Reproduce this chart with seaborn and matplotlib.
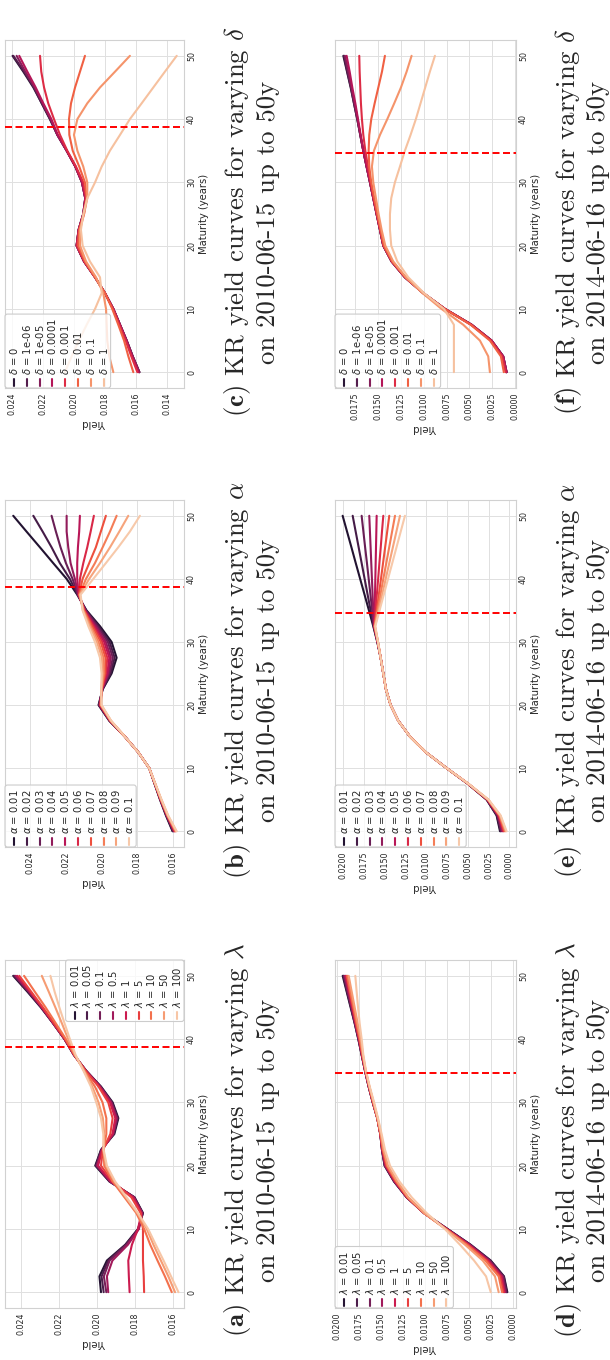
import matplotlib
matplotlib.use("Agg")
import matplotlib.pyplot as plt
from matplotlib.patches import FancyBboxPatch
from matplotlib.lines import Line2D
from matplotlib.transforms import IdentityTransform
import pandas as pd
import seaborn as sns

# ---------------------------------------------------------------- data
MATURITY = [0.0, 2.5, 5.0, 7.5, 10.0, 12.5, 15.0, 17.5, 20.0, 22.5, 25.0,
            27.5, 30.0, 32.5, 35.0, 37.5, 40.0, 42.5, 45.0, 47.5, 50.0]
MATURITY_TICKS = [0, 10, 20, 30, 40, 50]

LAMBDA_LABELS = ["0.01", "0.05", "0.1", "0.5", "1", "5", "10", "50", "100"]
ALPHA_LABELS = ["0.01", "0.02", "0.03", "0.04", "0.05",
                "0.06", "0.07", "0.08", "0.09", "0.1"]
DELTA_LABELS = ["0", "1e-06", "1e-05", "0.0001", "0.001", "0.01", "0.1", "1"]

# last liquid maturity (years) on each date
CUTOFF_2010 = 38.7
CUTOFF_2014 = 34.6

# yields in basis points, one row per parameter value, columns follow MATURITY
LAMBDA_2010_BP = [
    [197.9, 198.7, 194.8, 185.2, 178.5, 175.9, 180.3, 193.5, 200.9, 197.9, 190.9, 188.8, 191.8, 197.9, 205.7, 212.1, 217.0, 223.0, 229.4, 236.5, 243.9],
    [196.5, 197.6, 194.1, 184.9, 178.3, 176.0, 180.5, 193.4, 200.6, 197.8, 191.2, 189.1, 192.1, 198.1, 205.7, 212.1, 217.0, 223.0, 229.2, 236.1, 243.5],
    [195.1, 196.4, 193.4, 184.5, 178.2, 176.2, 180.6, 193.2, 200.2, 197.6, 191.4, 189.5, 192.4, 198.3, 205.7, 212.1, 217.0, 223.0, 229.0, 235.8, 243.0],
    [194.1, 194.8, 191.9, 183.8, 178.0, 176.4, 180.8, 193.0, 199.9, 197.4, 191.6, 189.8, 192.6, 198.5, 205.9, 212.1, 217.0, 222.9, 228.9, 235.4, 242.5],
    [182.9, 183.3, 183.6, 181.7, 178.5, 176.7, 181.2, 192.6, 199.4, 197.2, 191.9, 190.4, 193.2, 198.7, 205.9, 211.9, 216.8, 222.7, 228.7, 235.0, 241.8],
    [175.3, 175.5, 175.9, 175.9, 175.9, 177.1, 182.0, 191.9, 197.9, 196.9, 193.0, 191.8, 194.1, 199.2, 206.1, 211.9, 216.7, 222.5, 228.3, 234.5, 240.7],
    [160.8, 164.4, 168.3, 172.1, 175.3, 179.4, 185.6, 191.8, 196.2, 196.5, 195.1, 195.1, 197.1, 201.1, 206.5, 211.7, 216.3, 221.6, 226.9, 232.6, 238.2],
    [159.1, 162.6, 166.5, 170.4, 173.9, 178.9, 184.9, 190.9, 195.3, 196.7, 196.2, 196.9, 199.2, 202.5, 206.8, 211.6, 215.1, 218.4, 221.8, 225.3, 228.9],
    [157.3, 161.2, 165.1, 169.2, 173.2, 178.5, 184.5, 190.5, 194.8, 196.5, 196.7, 197.9, 200.4, 203.2, 207.1, 211.2, 214.2, 217.0, 219.7, 222.2, 224.4],
]

ALPHA_2010_BP = [
    [160.4, 164.1, 167.4, 170.4, 173.4, 179.5, 187.0, 195.7, 201.7, 199.4, 194.4, 191.6, 194.4, 200.9, 208.4, 213.6, 219.5, 227.0, 234.4, 241.9, 249.3],
    [160.2, 163.9, 167.2, 170.4, 173.4, 179.5, 187.0, 195.5, 201.5, 199.4, 195.0, 192.7, 195.5, 201.7, 208.6, 213.4, 217.7, 223.3, 227.9, 232.9, 238.1],
    [159.8, 163.7, 167.2, 170.2, 173.4, 179.5, 187.0, 195.5, 201.3, 199.6, 195.7, 193.7, 196.5, 202.4, 208.9, 213.2, 216.2, 219.9, 222.9, 225.5, 227.9],
    [159.6, 163.7, 167.1, 170.2, 173.4, 179.5, 187.0, 195.3, 201.1, 199.6, 196.3, 194.8, 197.6, 203.2, 209.1, 213.0, 214.9, 217.3, 218.6, 219.5, 219.5],
    [159.4, 163.5, 167.1, 170.2, 173.4, 179.5, 187.0, 195.2, 200.9, 199.8, 196.8, 195.7, 198.5, 203.9, 209.3, 212.8, 213.6, 213.6, 213.2, 212.5, 212.1],
    [159.1, 163.3, 166.9, 170.2, 173.4, 179.5, 187.0, 195.2, 200.7, 199.8, 197.6, 196.8, 199.6, 204.5, 209.7, 212.6, 212.1, 210.2, 208.0, 206.1, 204.3],
    [158.9, 163.2, 166.9, 170.2, 173.4, 179.5, 187.0, 195.0, 200.5, 200.0, 198.1, 197.8, 200.5, 205.2, 209.8, 212.5, 210.6, 206.9, 203.2, 200.4, 197.6],
    [158.7, 163.2, 166.7, 170.0, 173.4, 179.5, 187.0, 194.8, 200.4, 200.0, 198.7, 198.9, 201.7, 206.0, 210.0, 212.3, 208.7, 203.7, 199.4, 195.3, 191.6],
    [158.3, 163.0, 166.7, 170.0, 173.4, 179.5, 187.0, 194.8, 200.2, 200.2, 199.4, 199.8, 202.6, 206.7, 210.4, 212.1, 206.9, 200.9, 195.3, 190.1, 185.1],
    [158.1, 162.8, 166.5, 170.0, 173.4, 179.5, 187.0, 194.6, 200.0, 200.2, 200.0, 200.9, 203.7, 207.4, 210.6, 211.7, 204.6, 197.6, 190.7, 184.2, 178.6],
]

DELTA_2010_BP = [
    [157.6, 161.9, 165.8, 170.1, 174.4, 179.8, 186.2, 193.3, 198.1, 196.8, 193.8, 192.5, 194.6, 198.9, 204.5, 210.5, 215.3, 220.6, 226.0, 232.5, 239.4],
    [157.6, 161.9, 165.8, 170.1, 174.4, 179.8, 186.2, 193.3, 198.1, 196.8, 193.8, 192.5, 194.6, 198.9, 204.5, 210.5, 215.3, 220.6, 225.6, 232.0, 238.9],
    [157.6, 161.9, 165.8, 170.1, 174.4, 179.8, 186.2, 193.3, 198.1, 196.8, 193.8, 192.5, 194.6, 198.9, 204.5, 210.5, 214.8, 220.0, 225.2, 231.2, 236.8],
    [158.1, 162.2, 166.0, 170.1, 174.4, 179.8, 186.2, 193.3, 198.1, 196.8, 193.8, 192.5, 194.6, 198.9, 204.5, 210.3, 214.4, 219.6, 224.5, 229.9, 235.1],
    [158.9, 162.8, 166.5, 170.6, 174.6, 179.8, 186.2, 193.1, 197.9, 196.6, 193.5, 192.0, 193.8, 198.5, 204.1, 208.8, 212.7, 216.4, 219.1, 220.9, 221.7],
    [161.5, 164.7, 167.5, 171.2, 175.1, 179.8, 186.2, 192.7, 197.0, 196.4, 193.3, 191.6, 192.7, 196.4, 200.6, 202.8, 203.0, 201.7, 199.1, 195.9, 192.7],
    [174.4, 177.0, 178.3, 178.7, 179.1, 180.9, 185.6, 192.0, 195.9, 195.9, 193.3, 191.2, 191.2, 193.8, 197.6, 199.8, 197.6, 191.2, 183.0, 173.3, 163.7],
    [205.6, 201.3, 196.6, 191.6, 186.2, 181.9, 183.0, 189.5, 194.2, 195.3, 193.8, 191.2, 186.2, 181.9, 176.6, 170.1, 163.7, 156.1, 148.6, 141.1, 133.5],
]

LAMBDA_2014_BP = [
    [6.8, 10.6, 25.6, 48.3, 74.7, 101.1, 120.8, 135.1, 145.7, 148.7, 150.6, 154.0, 159.2, 163.8, 167.9, 171.7, 175.5, 179.6, 184.2, 188.7, 193.2],
    [7.5, 10.9, 26.0, 48.7, 74.7, 101.1, 120.8, 135.1, 145.7, 148.7, 150.6, 154.0, 159.2, 163.8, 167.9, 171.7, 175.5, 179.6, 183.8, 188.3, 192.4],
    [8.3, 11.7, 26.8, 49.1, 75.1, 101.1, 120.8, 134.7, 145.3, 148.7, 150.6, 154.0, 159.2, 163.8, 167.9, 171.7, 175.1, 179.2, 183.4, 187.5, 191.7],
    [9.4, 12.8, 27.9, 49.8, 75.5, 101.1, 120.4, 134.3, 144.9, 148.3, 150.6, 154.0, 158.9, 163.8, 167.9, 171.3, 174.7, 178.9, 182.6, 186.8, 190.6],
    [10.2, 13.6, 28.7, 50.6, 75.8, 101.1, 120.4, 134.0, 144.5, 148.3, 150.6, 154.0, 158.9, 163.4, 167.5, 171.3, 174.7, 178.5, 182.3, 186.0, 189.8],
    [11.3, 15.1, 30.2, 51.7, 76.2, 101.1, 120.0, 133.2, 143.8, 147.9, 150.6, 154.0, 158.9, 163.4, 167.5, 170.9, 174.3, 178.1, 181.5, 185.3, 188.7],
    [12.8, 16.6, 31.7, 52.8, 76.6, 101.1, 119.6, 132.5, 143.0, 147.5, 150.2, 154.0, 158.5, 163.0, 167.2, 170.6, 173.6, 177.4, 180.8, 184.5, 187.9],
    [16.6, 20.8, 34.7, 54.7, 77.0, 100.8, 118.9, 131.3, 141.9, 146.8, 149.8, 153.6, 158.1, 163.0, 167.2, 170.2, 172.8, 176.2, 179.6, 183.0, 186.4],
    [25.6, 30.9, 44.5, 60.4, 77.7, 98.1, 115.1, 129.0, 139.6, 145.3, 149.1, 153.2, 157.7, 162.6, 166.8, 169.8, 171.7, 174.0, 175.8, 177.4, 178.9],
]

ALPHA_2014_BP = [
    [11.2, 15.3, 27.3, 49.8, 75.5, 100.4, 119.7, 133.7, 143.0, 148.6, 151.8, 155.0, 159.0, 163.9, 169.1, 174.4, 179.7, 185.0, 190.2, 195.5, 200.8],
    [10.4, 14.9, 26.9, 49.8, 75.5, 100.4, 119.7, 133.7, 143.0, 148.6, 151.8, 155.0, 159.0, 163.5, 167.1, 170.7, 174.3, 177.9, 181.5, 185.1, 188.7],
    [9.6, 14.1, 26.9, 49.4, 75.5, 100.4, 119.7, 133.7, 143.0, 148.6, 151.8, 155.0, 158.6, 163.0, 165.2, 167.3, 169.4, 171.5, 173.7, 175.8, 177.9],
    [8.4, 13.6, 26.5, 49.4, 75.5, 100.4, 119.7, 133.7, 143.0, 148.6, 151.8, 155.0, 158.6, 163.0, 163.9, 164.7, 165.5, 166.3, 167.1, 167.9, 168.7],
    [7.6, 13.2, 26.1, 49.4, 75.5, 100.4, 119.7, 133.7, 143.0, 148.6, 151.8, 155.0, 158.6, 162.6, 162.2, 161.8, 161.4, 161.0, 160.6, 160.2, 159.8],
    [6.8, 12.4, 26.1, 49.4, 75.5, 100.4, 119.7, 133.7, 143.0, 148.6, 151.8, 155.0, 158.6, 162.6, 161.1, 159.6, 158.0, 156.5, 154.9, 153.4, 151.8],
    [6.0, 12.0, 25.7, 49.4, 75.5, 100.4, 119.7, 133.7, 143.0, 148.6, 151.8, 155.0, 158.2, 162.2, 159.7, 157.2, 154.6, 152.1, 149.6, 147.1, 144.6],
    [4.8, 11.6, 25.3, 49.0, 75.5, 100.4, 119.7, 133.7, 143.0, 148.6, 151.8, 155.0, 158.2, 162.2, 158.7, 155.2, 151.8, 148.2, 144.7, 141.2, 137.7],
    [4.0, 10.8, 25.3, 49.0, 75.5, 100.4, 119.7, 133.7, 143.0, 148.6, 151.8, 155.0, 158.2, 161.8, 157.5, 153.2, 148.9, 144.6, 140.3, 136.0, 131.7],
    [3.2, 10.4, 24.9, 49.0, 75.5, 100.4, 119.7, 133.7, 143.0, 148.6, 151.8, 155.0, 158.2, 161.4, 156.3, 151.2, 146.1, 141.0, 135.9, 130.8, 125.7],
]

DELTA_2014_BP = [
    [9.5, 13.2, 25.9, 47.7, 76.8, 100.5, 120.5, 135.0, 144.1, 147.7, 151.4, 155.0, 158.6, 162.3, 165.9, 169.2, 172.5, 176.1, 179.7, 183.7, 187.7],
    [9.5, 13.2, 25.9, 47.7, 76.8, 100.5, 120.5, 135.0, 144.1, 147.7, 151.4, 155.0, 158.6, 162.3, 165.9, 169.2, 172.5, 176.1, 179.4, 183.4, 187.0],
    [9.5, 13.2, 25.9, 47.7, 76.8, 100.5, 120.5, 135.0, 144.1, 147.7, 151.4, 155.0, 158.6, 162.3, 165.9, 169.2, 172.1, 175.4, 179.0, 182.3, 185.9],
    [9.5, 13.2, 25.9, 47.7, 76.8, 100.5, 120.5, 135.0, 144.1, 147.7, 151.4, 155.0, 158.6, 162.3, 165.9, 168.8, 171.7, 174.6, 177.9, 180.8, 184.1],
    [10.6, 14.3, 26.6, 48.1, 76.8, 100.5, 120.1, 134.6, 143.7, 147.4, 151.0, 154.6, 157.9, 160.8, 163.7, 165.9, 167.4, 168.5, 169.2, 169.9, 170.3],
    [12.5, 15.7, 27.7, 48.8, 77.2, 100.5, 119.7, 134.3, 143.4, 147.0, 150.6, 153.9, 157.2, 159.4, 160.1, 159.4, 157.2, 153.5, 149.5, 145.5, 142.3],
    [27.7, 29.5, 38.6, 56.8, 80.5, 101.2, 119.4, 133.2, 141.9, 145.9, 149.2, 152.1, 155.0, 156.5, 154.3, 147.7, 139.7, 132.1, 124.8, 118.6, 113.2],
    [67.0, 67.0, 67.0, 67.0, 77.9, 99.7, 116.8, 128.8, 135.4, 136.8, 136.8, 135.4, 131.4, 125.9, 120.5, 114.3, 108.5, 103.4, 98.3, 93.2, 87.7],
]

YIELD_TICKS_2010 = [0.016, 0.018, 0.020, 0.022, 0.024]
YIELD_TICKS_DELTA_2010 = [0.014, 0.016, 0.018, 0.020, 0.022, 0.024]
YIELD_TICKS_2014 = [0.0, 0.0025, 0.005, 0.0075, 0.01, 0.0125, 0.015, 0.0175, 0.02]
YIELD_TICKS_DELTA_2014 = [0.0, 0.0025, 0.005, 0.0075, 0.01, 0.0125, 0.015, 0.0175]

# ---------------------------------------------------------------- style
sns.set_style("whitegrid", {"axes.edgecolor": ".82", "grid.color": ".88"})
plt.rcParams["font.family"] = ["DejaVu Sans"]
plt.rcParams["axes.linewidth"] = 0.8
plt.rcParams["grid.linewidth"] = 0.7

W, H = 610, 1360
fig = plt.figure(figsize=(W / 100, H / 100), dpi=100)
PIX = IdentityTransform()

TICK_FS = 5.7
LABEL_FS = 7.2
LEGEND_FS = 7.2
CAPTION_FS = 19.3


def rect_from_px(x0, y0, x1, y1):
    """Axes rectangle from page pixel edges (y measured from the top)."""
    return [x0 / W, 1 - y1 / H, (x1 - x0) / W, (y1 - y0) / H]


def text_length(s, size):
    t = fig.text(0, 0, s, fontsize=size)
    w = t.get_window_extent(fig.canvas.get_renderer()).width
    t.remove()
    return w


def draw_legend(labels, colors, corner_x, corner_y, corner):
    n = len(labels)
    width = 9 + (n - 1) * 12.8 + 7
    height = 13 + max(text_length(s, LEGEND_FS) for s in labels) + 4
    if corner == "top-right":
        x0 = corner_x - width
        y_bottom = corner_y + height
    else:
        x0 = corner_x
        y_bottom = corner_y
    box = FancyBboxPatch((x0, H - y_bottom), width, height,
                         boxstyle="round,pad=0,rounding_size=2.5",
                         transform=PIX, facecolor=(1, 1, 1, 0.8),
                         edgecolor="0.8", linewidth=0.8, zorder=5)
    fig.add_artist(box)
    for i, (lab, col) in enumerate(zip(labels, colors)):
        cx = x0 + 9 + i * 12.8
        fig.add_artist(Line2D([cx, cx], [H - (y_bottom - 2), H - (y_bottom - 9.5)],
                              color=col, lw=1.5, transform=PIX, zorder=6))
        fig.text(cx, H - (y_bottom - 13), lab, rotation=90, rotation_mode="anchor",
                 ha="left", va="center", fontsize=LEGEND_FS, transform=PIX, zorder=6)


PANELS = [
    dict(tag="a", sym=r"\lambda", values=LAMBDA_LABELS, curves=LAMBDA_2010_BP,
         date="2010-06-15", cut=CUTOFF_2010, box=(5, 960, 184, 1308),
         xlim=(0.02482, 0.01544), ticks=YIELD_TICKS_2010, fmt="{:.3f}",
         legend="top-right", caption_x=(244, 275), caption_y=1140),
    dict(tag="b", sym=r"\alpha", values=ALPHA_LABELS, curves=ALPHA_2010_BP,
         date="2010-06-15", cut=CUTOFF_2010, box=(5, 500, 184, 847),
         xlim=(0.02539, 0.01540), ticks=YIELD_TICKS_2010, fmt="{:.3f}",
         legend="bottom-left", caption_x=(244, 275), caption_y=680),
    dict(tag="c", sym=r"\delta", values=DELTA_LABELS, curves=DELTA_2010_BP,
         date="2010-06-15", cut=CUTOFF_2010, box=(5, 40, 184, 388),
         xlim=(0.02443, 0.01288), ticks=YIELD_TICKS_DELTA_2010, fmt="{:.3f}",
         legend="bottom-left", caption_x=(244, 275), caption_y=222),
    dict(tag="d", sym=r"\lambda", values=LAMBDA_LABELS, curves=LAMBDA_2014_BP,
         date="2014-06-16", cut=CUTOFF_2014, box=(335, 960, 516, 1308),
         xlim=(0.02019, -0.00030), ticks=YIELD_TICKS_2014, fmt="{:.4f}",
         legend="bottom-left", caption_x=(575, 605), caption_y=1140),
    dict(tag="e", sym=r"\alpha", values=ALPHA_LABELS, curves=ALPHA_2014_BP,
         date="2014-06-16", cut=CUTOFF_2014, box=(335, 500, 516, 847),
         xlim=(0.02100, -0.00081), ticks=YIELD_TICKS_2014, fmt="{:.4f}",
         legend="bottom-left", caption_x=(575, 605), caption_y=680),
    dict(tag="f", sym=r"\delta", values=DELTA_LABELS, curves=DELTA_2014_BP,
         date="2014-06-16", cut=CUTOFF_2014, box=(335, 40, 516, 388),
         xlim=(0.01968, -0.00008), ticks=YIELD_TICKS_DELTA_2014, fmt="{:.4f}",
         legend="bottom-left", caption_x=(575, 605), caption_y=222),
]

for p in PANELS:
    labels = [f"${p['sym']}$ = {v}" for v in p["values"]]
    rows = []
    for lab, curve in zip(labels, p["curves"]):
        for m, bp in zip(MATURITY, curve):
            rows.append({"Maturity": m, "Yield": bp / 1e4, "param": lab})
    df = pd.DataFrame(rows)
    palette = sns.color_palette("rocket", n_colors=len(labels))

    x0, y0, x1, y1 = p["box"]
    ax = fig.add_axes(rect_from_px(x0, y0, x1, y1))
    # maturity runs up the page, yield decreases to the right
    sns.lineplot(data=df, x="Yield", y="Maturity", hue="param", hue_order=labels,
                 palette=palette, orient="y", sort=True, estimator=None,
                 legend=False, linewidth=1.5, ax=ax)
    ax.axhline(p["cut"], color="red", lw=1.4, ls=(0, (3.6, 1.8)), zorder=4)

    ax.set_xlim(*p["xlim"])
    ax.set_ylim(-2.5, 52.5)
    ax.set_xticks(p["ticks"], labels=[p["fmt"].format(t) for t in p["ticks"]],
                  rotation=90, fontsize=TICK_FS)
    ax.yaxis.tick_right()
    ax.yaxis.set_label_position("right")
    ax.set_yticks(MATURITY_TICKS, labels=[str(t) for t in MATURITY_TICKS],
                  rotation=90, va="center", fontsize=TICK_FS)
    ax.tick_params(axis="x", pad=3.2, length=0)
    ax.tick_params(axis="y", pad=2.2, length=0)
    ax.set_xlabel("Yield", fontsize=LABEL_FS, rotation=180, labelpad=2)
    ax.set_ylabel("Maturity (years)", fontsize=LABEL_FS, rotation=90, labelpad=2)

    if p["legend"] == "top-right":
        draw_legend(labels, palette, x1, y0, "top-right")
    else:
        draw_legend(labels, palette, x0, y1, "bottom-left")

    cx1, cx2 = p["caption_x"]
    fig.text(cx1, H - p["caption_y"],
             rf"$\mathbf{{({p['tag']})}}$ KR yield curves for varying ${p['sym']}$",
             rotation=90, rotation_mode="anchor", ha="center", va="baseline",
             fontsize=CAPTION_FS, family="cmr10", math_fontfamily="cm", transform=PIX)
    fig.text(cx2, H - p["caption_y"], f"on {p['date']} up to 50y",
             rotation=90, rotation_mode="anchor", ha="center", va="baseline",
             fontsize=CAPTION_FS, family="cmr10", math_fontfamily="cm", transform=PIX)

fig.savefig("out.png", dpi=100, facecolor="white")
